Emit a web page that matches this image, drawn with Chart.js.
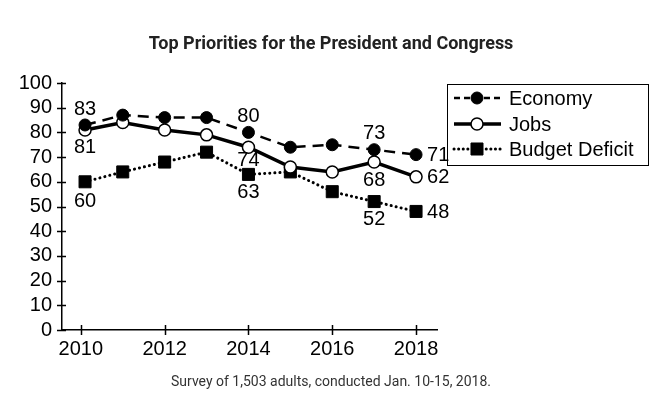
<!DOCTYPE html>
<html>
<head>
<meta charset="utf-8">
<script src="https://cdn.jsdelivr.net/npm/chart.js@4/dist/chart.umd.min.js"></script>
<style>
  html, body { margin: 0; padding: 0; background: #fff; }
  #wrap { width: 660px; height: 403px; position: relative; }
</style>
</head>
<body>
<div id="wrap"><canvas id="c" width="660" height="403"></canvas></div>
<script>
// ---- data ----
const title = "Top Priorities for the President and Congress";
const footnote = "Survey of 1,503 adults, conducted Jan. 10-15, 2018.";
const years = [2010.1, 2011, 2012, 2013, 2014, 2015, 2016, 2017, 2018];
const seriesNames = ["Economy", "Jobs", "Budget Deficit"];
const economy = [83, 87, 86, 86, 80, 74, 75, 73, 71];
const jobs = [81, 84, 81, 79, 74, 66, 64, 68, 62];
const budgetDeficit = [60, 64, 68, 72, 63, 64, 56, 52, 48];
const xTickValues = [2010, 2012, 2014, 2016, 2018];
const yTickValues = [0, 10, 20, 30, 40, 50, 60, 70, 80, 90, 100];
// which points carry value labels, and where
const labelSpec = [
  { 0: "above", 4: "above", 7: "above", 8: "right" },
  { 0: "below", 4: "below2", 7: "below", 8: "right" },
  { 0: "below3", 4: "below", 7: "below", 8: "right" }
];

const FONT = "'Liberation Sans', Arial, sans-serif";

function pts(vals) { return vals.map((v, i) => ({ x: years[i], y: v })); }

const decor = {
  id: 'decor',
  afterDraw(chart) {
    const ctx = chart.ctx;
    const xs = chart.scales.x, ys = chart.scales.y;
    ctx.save();
    // crossing tick marks
    ctx.strokeStyle = '#000';
    ctx.lineWidth = 1.5;
    ctx.beginPath();
    yTickValues.forEach(v => {
      const py = Math.round(ys.getPixelForValue(v)) + 0.5;
      ctx.moveTo(xs.left - 5, py); ctx.lineTo(xs.left + 4, py);
    });
    xTickValues.forEach(v => {
      const px = Math.round(xs.getPixelForValue(v)) + 0.5;
      ctx.moveTo(px, ys.bottom - 5); ctx.lineTo(px, ys.bottom + 5);
    });
    ctx.stroke();

    // value labels
    ctx.fillStyle = '#000';
    ctx.font = "20px " + FONT;
    chart.data.datasets.forEach((ds, di) => {
      const meta = chart.getDatasetMeta(di);
      const spec = labelSpec[di];
      Object.keys(spec).forEach(k => {
        const el = meta.data[+k];
        const val = ds.data[+k].y;
        const pos = spec[k];
        ctx.textBaseline = 'middle';
        if (pos === 'right') {
          ctx.textAlign = 'left';
          ctx.fillText(String(val), el.x + 11, el.y + 1);
        } else {
          ctx.textAlign = 'center';
          const off = { above: -16, below: 18, below2: 13, below3: 20 }[pos];
          ctx.fillText(String(val), el.x, el.y + off);
        }
      });
    });

    // title & footnote
    ctx.textAlign = 'center'; ctx.textBaseline = 'middle';
    ctx.fillStyle = '#222';
    ctx.font = "bold 18px Roboto, sans-serif";
    ctx.fillText(title, 331, 44);
    ctx.fillStyle = '#333';
    ctx.font = "14px Roboto, sans-serif";
    ctx.fillText(footnote, 331, 382);

    // legend
    const bx = 447, by = 84, bw = 201, bh = 81;
    ctx.strokeStyle = '#000'; ctx.lineWidth = 1;
    ctx.strokeRect(bx + 0.5, by + 0.5, bw, bh);
    const rows = [98, 124, 149];
    chart.data.datasets.forEach((ds, di) => {
      const y = rows[di];
      ctx.save();
      ctx.strokeStyle = '#000';
      ctx.lineWidth = ds.borderWidth;
      ctx.setLineDash(ds.legendDash || []);
      ctx.lineCap = ds.borderCapStyle || 'butt';
      ctx.beginPath();
      ctx.moveTo(bx + 7, y); ctx.lineTo(bx + 54, y);
      ctx.stroke();
      ctx.restore();
      ctx.save();
      ctx.fillStyle = ds.pointBackgroundColor;
      ctx.strokeStyle = ds.pointBorderColor;
      ctx.lineWidth = ds.pointBorderWidth;
      Chart.helpers.drawPoint(ctx, {
        pointStyle: ds.pointStyle, rotation: 0, radius: ds.pointRadius,
        borderWidth: ds.pointBorderWidth
      }, bx + 30, y);
      ctx.restore();
      ctx.fillStyle = '#000';
      ctx.textAlign = 'left'; ctx.textBaseline = 'middle';
      ctx.font = "20px " + FONT;
      ctx.fillText(seriesNames[di], bx + 62, y + 1);
    });
    ctx.restore();
  }
};

const chart = new Chart(document.getElementById('c'), {
  type: 'line',
  data: {
    datasets: [
      {
        label: seriesNames[0], data: pts(economy),
        borderColor: '#000', borderWidth: 2.5, borderDash: [11, 7], legendDash: [6, 4],
        pointStyle: 'circle', pointRadius: 6, pointBackgroundColor: '#000',
        pointBorderColor: '#000', pointBorderWidth: 1, tension: 0
      },
      {
        label: seriesNames[1], data: pts(jobs),
        borderColor: '#000', borderWidth: 3.5,
        pointStyle: 'circle', pointRadius: 6, pointBackgroundColor: '#fff',
        pointBorderColor: '#000', pointBorderWidth: 1.5, tension: 0
      },
      {
        label: seriesNames[2], data: pts(budgetDeficit),
        borderColor: '#000', borderWidth: 3, borderDash: [0.1, 5], legendDash: [0.1, 4.5],
        borderCapStyle: 'round',
        pointStyle: 'rect', pointRadius: 8.5, pointBackgroundColor: '#000',
        pointBorderColor: '#000', pointBorderWidth: 1, tension: 0
      }
    ]
  },
  options: {
    responsive: false,
    animation: false,
    layout: { padding: { left: 0, right: 223, top: 83, bottom: 0 } },
    plugins: { legend: { display: false }, title: { display: false }, tooltip: { enabled: false } },
    scales: {
      x: {
        type: 'linear', min: 2009.55, max: 2018.5,
        afterBuildTicks: s => { s.ticks = xTickValues.map(v => ({ value: v })); },
        afterFit: s => { s.height = 73; },
        grid: { display: true, drawOnChartArea: false, drawTicks: false },
        border: { display: true, color: '#000', width: 1.5 },
        ticks: { color: '#000', font: { family: FONT, size: 20 }, padding: 7, maxRotation: 0,
                 autoSkip: false, callback: v => String(v) }
      },
      y: {
        min: 0, max: 100,
        afterBuildTicks: s => { s.ticks = yTickValues.map(v => ({ value: v })); },
        afterFit: s => { s.width = 62; },
        grid: { display: true, drawOnChartArea: false, drawTicks: false },
        border: { display: true, color: '#000', width: 1.5 },
        ticks: { color: '#000', font: { family: FONT, size: 20 }, padding: 10,
                 autoSkip: false, callback: v => String(v) }
      }
    }
  },
  plugins: [decor]
});
</script>
</body>
</html>
